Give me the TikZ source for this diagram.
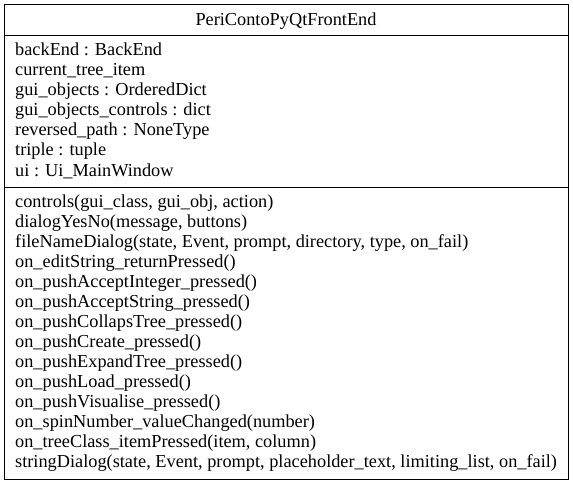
\documentclass[tikz,border=0pt]{standalone}
\usepackage{fontspec}
\setmainfont{Liberation Serif}
\begin{document}
\begin{tikzpicture}[x=1pt,y=-1pt,
  txt/.style={anchor=base west,inner sep=0pt,font=\fontsize{18.3}{20}\selectfont},
  ttl/.style={anchor=base,inner sep=0pt,font=\fontsize{18.3}{20}\selectfont},
  frame/.style={draw=black,line width=1pt}]
\useasboundingbox (0,0) rectangle (573,484);
\draw[frame] (4.5,4.5) rectangle (568,479);
\draw[frame] (4.5,36) -- (568,36);
\draw[frame] (4.5,187) -- (568,187);
\node[ttl] (title) at (286,26) {PeriContoPyQtFrontEnd};
\foreach \t [count=\i from 0] in {backEnd : BackEnd, current\_tree\_item, gui\_objects : OrderedDict, gui\_objects\_controls : dict, reversed\_path : NoneType, triple : tuple, ui : Ui\_MainWindow}
  \node[txt] (a\i) at (15,56+20*\i) {\t};
\foreach \t [count=\i from 0] in {{controls(gui\_class, gui\_obj, action)}, {dialogYesNo(message, buttons)}, {fileNameDialog(state, Event, prompt, directory, type, on\_fail)}, on\_editString\_returnPressed(), on\_pushAcceptInteger\_pressed(), on\_pushAcceptString\_pressed(), on\_pushCollapsTree\_pressed(), on\_pushCreate\_pressed(), on\_pushExpandTree\_pressed(), on\_pushLoad\_pressed(), on\_pushVisualise\_pressed(), {on\_spinNumber\_valueChanged(number)}, {on\_treeClass\_itemPressed(item, column)}, {stringDialog(state, Event, prompt, placeholder\_text, limiting\_list, on\_fail)}}
  \node[txt] (m\i) at (15,207+20*\i) {\t};
\end{tikzpicture}
\end{document}
